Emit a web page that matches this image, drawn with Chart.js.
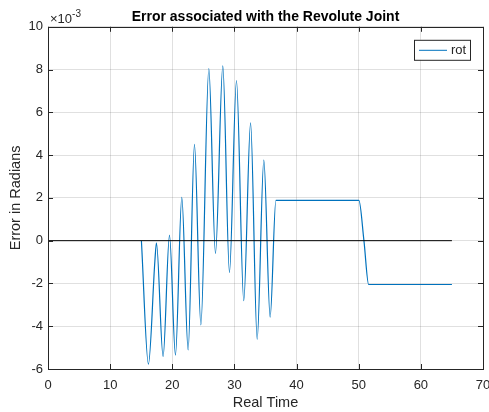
<!DOCTYPE html>
<html>
<head>
<meta charset="utf-8">
<title>Error associated with the Revolute Joint</title>
<script src="https://cdn.jsdelivr.net/npm/chart.js@4.4.1/dist/chart.umd.min.js"></script>
<style>
  html, body { margin: 0; padding: 0; background: #fff; }
  canvas { display: block; }
</style>
</head>
<body>
<canvas id="chartError" width="489" height="412"></canvas>
<script>
// Datos (error en unidades de 1e-3 rad)
const tiempo = [15.03, 16.16, 17.2, 17.45, 18.52, 19.55, 20.51, 21.53, 22.55, 23.57,
  24.6, 25.88, 26.95, 28.13, 29.2, 30.33, 31.5, 32.6, 33.66, 34.73,
  35.75, 36.67, 50.03, 50.84, 51.6, 65];
const errorRot = [0, -5.77, -0.95, -0.1, -5.42, 0.26, -5.35, 2.02, -5.11, 4.5,
  -3.94, 8.05, -0.59, 8.17, -1.48, 7.49, -2.81, 5.51, -4.61, 3.77,
  -3.58, 1.88, 1.88, 0, -2.05, -2.05];
const lineaCeroX = [0, 65];
const lineaCeroY = [0, 0];
const ticksX = [0, 10, 20, 30, 40, 50, 60, 70];
const ticksY = [-6, -4, -2, 0, 2, 4, 6, 8, 10];

const FUENTE = 'Liberation Sans, Arial, Helvetica, sans-serif';
const GRIS = '#262626';

// Caja, marcas hacia adentro, exponente y leyenda al estilo MATLAB
const cajaMatlab = {
  id: 'cajaMatlab',
  afterDraw(chart) {
    const { ctx, chartArea: a, scales } = chart;
    ctx.save();
    ctx.strokeStyle = GRIS;
    ctx.lineWidth = 1;
    ctx.beginPath();
    ticksX.forEach(v => {
      const x = Math.round(scales.x.getPixelForValue(v)) + 0.5;
      ctx.moveTo(x, a.bottom); ctx.lineTo(x, a.bottom - 5);
      ctx.moveTo(x, a.top); ctx.lineTo(x, a.top + 5);
    });
    ticksY.forEach(v => {
      const y = Math.round(scales.y.getPixelForValue(v)) + 0.5;
      ctx.moveTo(a.left, y); ctx.lineTo(a.left + 5, y);
      ctx.moveTo(a.right, y); ctx.lineTo(a.right - 5, y);
    });
    ctx.stroke();
    ctx.strokeRect(Math.round(a.left) + 0.5, Math.round(a.top) + 0.5,
      Math.round(a.right - a.left), Math.round(a.bottom - a.top));

    // exponente del eje y
    ctx.fillStyle = GRIS;
    ctx.textBaseline = 'alphabetic';
    ctx.textAlign = 'left';
    ctx.font = '13px ' + FUENTE;
    ctx.fillText('\u00d710', a.left + 2, a.top - 4);
    const w = ctx.measureText('\u00d710').width;
    ctx.font = '10px ' + FUENTE;
    ctx.fillText('-3', a.left + 2 + w, a.top - 10);

    // leyenda
    const ds = chart.data.datasets[1];
    const lx = a.right - 69, ly = a.top + 13, lw = 56, lh = 20;
    ctx.fillStyle = '#fff';
    ctx.fillRect(lx, ly, lw, lh);
    ctx.strokeStyle = GRIS;
    ctx.strokeRect(lx + 0.5, ly + 0.5, lw, lh);
    ctx.strokeStyle = ds.borderColor;
    ctx.lineWidth = 1;
    ctx.beginPath();
    ctx.moveTo(lx + 5, ly + 10.5); ctx.lineTo(lx + 33, ly + 10.5);
    ctx.stroke();
    ctx.fillStyle = GRIS;
    ctx.font = '13px ' + FUENTE;
    ctx.textBaseline = 'middle';
    ctx.fillText(ds.label, lx + 37, ly + 11);
    ctx.restore();
  }
};

new Chart(document.getElementById('chartError'), {
  type: 'line',
  data: {
    datasets: [
      {
        label: 'cero',
        data: lineaCeroX.map((x, i) => ({ x, y: lineaCeroY[i] })),
        borderColor: '#000000',
        borderWidth: 1,
        pointRadius: 0,
        order: 0
      },
      {
        label: 'rot',
        data: tiempo.map((x, i) => ({ x, y: errorRot[i] })),
        borderColor: '#0072BD',
        borderWidth: 1.2,
        pointRadius: 0,
        cubicInterpolationMode: 'monotone',
        order: 1
      }
    ]
  },
  options: {
    responsive: false,
    animation: false,
    layout: { padding: { top: 0, right: 6, left: 0, bottom: 0 } },
    plugins: {
      legend: { display: false },
      tooltip: { enabled: false },
      title: {
        display: true,
        text: 'Error associated with the Revolute Joint',
        fullSize: false,
        color: '#000',
        font: { family: FUENTE, size: 14, weight: 'bold' },
        padding: { top: 9, bottom: 1 }
      }
    },
    scales: {
      x: {
        type: 'linear',
        min: 0, max: 70,
        afterBuildTicks: s => { s.ticks = ticksX.map(v => ({ value: v })); },
        afterFit: s => { s.height = 43; s.paddingRight = 0; s.paddingLeft = 0; },
        ticks: { color: GRIS, padding: 9, maxRotation: 0, font: { family: FUENTE, size: 13 } },
        grid: { color: 'rgba(38,38,38,0.14)', drawTicks: false },
        border: { display: false },
        title: {
          display: true, text: 'Real Time', color: GRIS,
          font: { family: FUENTE, size: 14.5 },
          padding: { top: 0, bottom: 0 }
        }
      },
      y: {
        min: -6, max: 10,
        afterBuildTicks: s => { s.ticks = ticksY.map(v => ({ value: v })); },
        afterFit: s => { s.width = 48; s.paddingTop = 0; s.paddingBottom = 0; },
        ticks: { color: GRIS, padding: 5, font: { family: FUENTE, size: 13 } },
        grid: { color: 'rgba(38,38,38,0.14)', drawTicks: false },
        border: { display: false },
        title: {
          display: true, text: 'Error in Radians', color: GRIS,
          font: { family: FUENTE, size: 14.5 },
          padding: { top: 7, bottom: 0 }
        }
      }
    }
  },
  plugins: [cajaMatlab]
});
</script>
</body>
</html>
